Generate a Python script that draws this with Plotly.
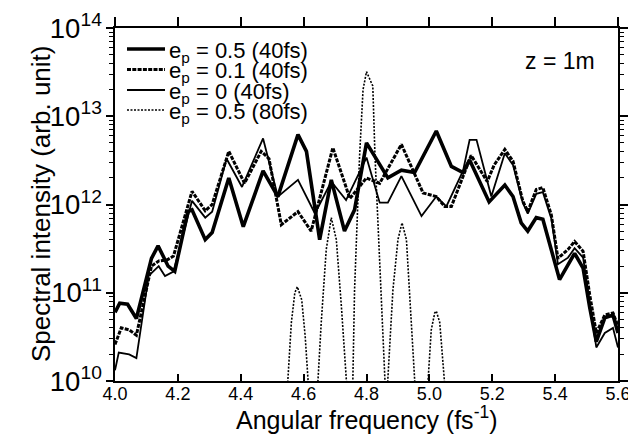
import plotly.graph_objects as go

# ---------------- data ----------------
freq_A = [4.000, 4.015, 4.040, 4.068, 4.116, 4.137, 4.169, 4.190, 4.232, 4.245, 4.287, 4.309, 4.362, 4.408,
          4.471, 4.518, 4.582, 4.609, 4.651, 4.688, 4.730, 4.762, 4.800, 4.868, 4.911, 4.953, 5.022, 5.070,
          5.107, 5.128, 5.190, 5.240, 5.266, 5.292, 5.313, 5.340, 5.361, 5.388, 5.414, 5.462, 5.489, 5.510,
          5.531, 5.558, 5.584, 5.600]
int_A = [6.0e10, 7.6e10, 7.4e10, 5.1e10, 2.45e11, 3.4e11, 2.0e11, 1.75e11, 8.3e11, 8.7e11, 4.0e11, 4.8e11, 2.0e12, 5.6e11,
         2.4e12, 1.23e12, 6.2e12, 4.0e12, 4.0e11, 1.9e12, 5.0e11, 8.7e11, 5.0e12, 2.0e12, 2.45e12, 2.3e12, 6.8e12, 2.7e12,
         2.3e12, 3.2e12, 1.07e12, 1.66e12, 1.23e12, 6.2e11, 5.0e11, 7.1e11, 6.8e11, 2.95e11, 1.41e11, 2.8e11, 1.9e11, 6.8e10,
         2.8e10, 5.2e10, 5.6e10, 3.5e10]

freq_B = [4.000, 4.020, 4.045, 4.068, 4.116, 4.140, 4.165, 4.186, 4.245, 4.287, 4.309, 4.362, 4.412, 4.465,
          4.490, 4.529, 4.582, 4.624, 4.693, 4.747, 4.800, 4.842, 4.911, 4.948, 4.980, 5.022, 5.049, 5.070,
          5.107, 5.133, 5.184, 5.206, 5.240, 5.266, 5.297, 5.313, 5.340, 5.361, 5.388, 5.409, 5.441, 5.462,
          5.489, 5.510, 5.531, 5.558, 5.584, 5.600]
int_B = [2.6e10, 4.0e10, 3.8e10, 3.3e10, 2.0e11, 2.3e11, 2.35e11, 2.6e11, 1.41e12, 8.5e11, 1.0e12, 4.0e12, 1.74e12, 4.0e12,
         3.3e12, 5.9e11, 8.3e11, 5.0e11, 4.4e12, 1.17e12, 2.0e12, 1.74e12, 4.8e12, 2.45e12, 1.35e12, 1.23e12, 9.5e11, 9.5e11,
         2.1e12, 3.6e12, 1.82e12, 2.8e12, 4.2e12, 3.1e12, 1.1e12, 8.3e11, 1.48e12, 1.55e12, 7.6e11, 2.45e11, 3.1e11, 3.8e11,
         2.95e11, 9.5e10, 3.5e10, 5.6e10, 5.9e10, 4.2e10]

freq_C = [4.000, 4.012, 4.045, 4.068, 4.107, 4.139, 4.159, 4.186, 4.245, 4.287, 4.309, 4.355, 4.404, 4.471,
          4.518, 4.582, 4.636, 4.688, 4.735, 4.800, 4.842, 4.868, 4.911, 4.975, 5.022, 5.054, 5.107, 5.128,
          5.150, 5.197, 5.240, 5.266, 5.297, 5.313, 5.340, 5.361, 5.388, 5.409, 5.441, 5.462, 5.489, 5.510,
          5.531, 5.558, 5.584, 5.600]
int_C = [1.32e10, 2.1e10, 2.0e10, 1.82e10, 1.55e11, 2.0e11, 1.55e11, 1.74e11, 1.1e12, 7.1e11, 8.3e11, 3.3e12, 1.58e12, 5.6e12,
         1.23e12, 1.9e12, 7.9e11, 1.82e12, 1.12e12, 3.4e12, 1.05e12, 1.05e12, 2.1e12, 7.4e11, 1.23e12, 9.5e11, 2.4e12, 5.4e12,
         5.4e12, 1.23e12, 3.8e12, 2.8e12, 1.05e12, 7.9e11, 1.32e12, 1.38e12, 6.9e11, 2.1e11, 2.5e11, 3.2e11, 2.5e11, 7.9e10,
         2.4e10, 3.5e10, 4.0e10, 2.4e10]

freq_D = [4.548, 4.561, 4.572, 4.580, 4.594, 4.605, 4.616,
          4.644, 4.656, 4.672, 4.688, 4.704, 4.720, 4.738,
          4.756, 4.762, 4.778, 4.789, 4.800, 4.820, 4.827, 4.842, 4.860,
          4.866, 4.884, 4.900, 4.913, 4.927, 4.937, 4.955,
          4.994, 5.006, 5.017, 5.022, 5.033, 5.050]
int_D = [8e9, 4.6e10, 1.0e11, 1.17e11, 8.3e10, 3.2e10, 8e9,
         8e9, 4.6e10, 3.1e11, 7.1e11, 4.0e11, 7.1e10, 8e9,
         8e9, 1.07e11, 3.55e12, 2.0e13, 3.2e13, 2.2e13, 3.55e12, 2.6e11, 8e9,
         8e9, 1.07e11, 4.0e11, 6.2e11, 4.0e11, 1.07e11, 8e9,
         8e9, 3.8e10, 5.9e10, 6.2e10, 4.6e10, 8e9]

NB = "\u00a0"
labels = [f"e<sub>p</sub>{NB}={NB}0.5 (40fs)", f"e<sub>p</sub>{NB}={NB}0.1 (40fs)",
          f"e<sub>p</sub>{NB}={NB}0 (40fs)", f"e<sub>p</sub>{NB}={NB}0.5 (80fs)"]
x_ticks = [4.0, 4.2, 4.4, 4.6, 4.8, 5.0, 5.2, 5.4, 5.6]
x_title = "Angular frequency (fs<sup>-1</sup>)"
y_title = "Spectral intensity (arb. unit)"

# ---------------- styles ----------------
FONT = "Liberation Sans, Arial, Helvetica, sans-serif"
styles = [dict(color="black", width=3.6),
          dict(color="black", width=3.0, dash="4px,1.3px"),
          dict(color="black", width=1.8),
          dict(color="black", width=1.6, dash="2px,1.5px")]

W, H = 636, 438
L, R, T, B = 107, 26, 20, 65

fig = go.Figure()
series = [(freq_D, int_D), (freq_C, int_C), (freq_B, int_B), (freq_A, int_A)]
order = [3, 2, 1, 0]
for (xs, ys), idx in zip(series, order):
    fig.add_trace(go.Scatter(x=xs, y=ys, mode="lines", line=styles[idx],
                             name=labels[idx], showlegend=False, hoverinfo="skip"))

# empty trace so the mirror axes get drawn
fig.add_trace(go.Scatter(x=[], y=[], xaxis="x2", yaxis="y2", showlegend=False))

axis_common = dict(showline=True, linecolor="black", linewidth=1.5, showgrid=False,
                   zeroline=False, tickcolor="black", tickwidth=1.5, automargin=False)

fig.update_layout(
    template="none",
    width=W, height=H,
    margin=dict(l=L, r=R, t=T, b=B, autoexpand=False),
    plot_bgcolor="white", paper_bgcolor="white",
    font=dict(family=FONT, color="black"),
    xaxis=dict(range=[4.0, 5.6], tickvals=x_ticks, ticktext=[f"{v:.1f}" for v in x_ticks],
               ticks="inside", ticklen=7, tickfont=dict(size=18), ticklabelstandoff=-4,
               **axis_common),
    xaxis2=dict(range=[4.0, 5.6], tickvals=x_ticks, overlaying="x", side="top", anchor="y",
                ticks="outside", ticklen=9, showticklabels=False, **axis_common),
    yaxis=dict(type="log", range=[10, 14], dtick=1, exponentformat="power", showexponent="all",
               ticks="outside", ticklen=7, tickfont=dict(size=22),
               minor=dict(dtick="D1", ticks="outside", ticklen=4, tickcolor="black", tickwidth=1.2, showgrid=False),
               **axis_common),
    yaxis2=dict(type="log", range=[10, 14], dtick=1, overlaying="y", side="right", anchor="x",
                ticks="outside", ticklen=8, showticklabels=False,
                minor=dict(dtick="D1", ticks="outside", ticklen=4, tickcolor="black", tickwidth=1.2, showgrid=False),
                **axis_common),
)

pw, ph = W - L - R, H - T - B
def px2paper(px, py):
    return (px - L) / pw, (H - B - py) / ph

# axis titles placed as annotations
ax_x, ax_y = px2paper(359, 410)
fig.add_annotation(xref="paper", yref="paper", x=ax_x, y=ax_y, text=x_title, showarrow=False,
                   xanchor="center", yanchor="middle", font=dict(size=25, family=FONT))
ay_x, ay_y = px2paper(33, 196)
fig.add_annotation(xref="paper", yref="paper", x=ay_x, y=ay_y, text=y_title, showarrow=False,
                   textangle=-90, xanchor="center", yanchor="middle", font=dict(size=26, family=FONT))

# manual legend (tight rows like the original)
rows_py = [41, 61.5, 82, 102]
for i, py in enumerate(rows_py):
    x0, y0 = px2paper(119, py)
    x1, _ = px2paper(157, py)
    fig.add_shape(type="line", xref="paper", yref="paper", x0=x0, x1=x1, y0=y0, y1=y0,
                  line=styles[i])
    tx, ty = px2paper(159, py + 3)
    fig.add_annotation(xref="paper", yref="paper", x=tx, y=ty, text=labels[i], showarrow=False,
                       xanchor="left", yanchor="middle", font=dict(size=22, family=FONT))

zx, zy = px2paper(552, 53)
fig.add_annotation(xref="paper", yref="paper", x=zx, y=zy, text="z = 1m", showarrow=False,
                   xanchor="center", yanchor="middle", font=dict(size=23, family=FONT))

fig.write_html("out.html")
